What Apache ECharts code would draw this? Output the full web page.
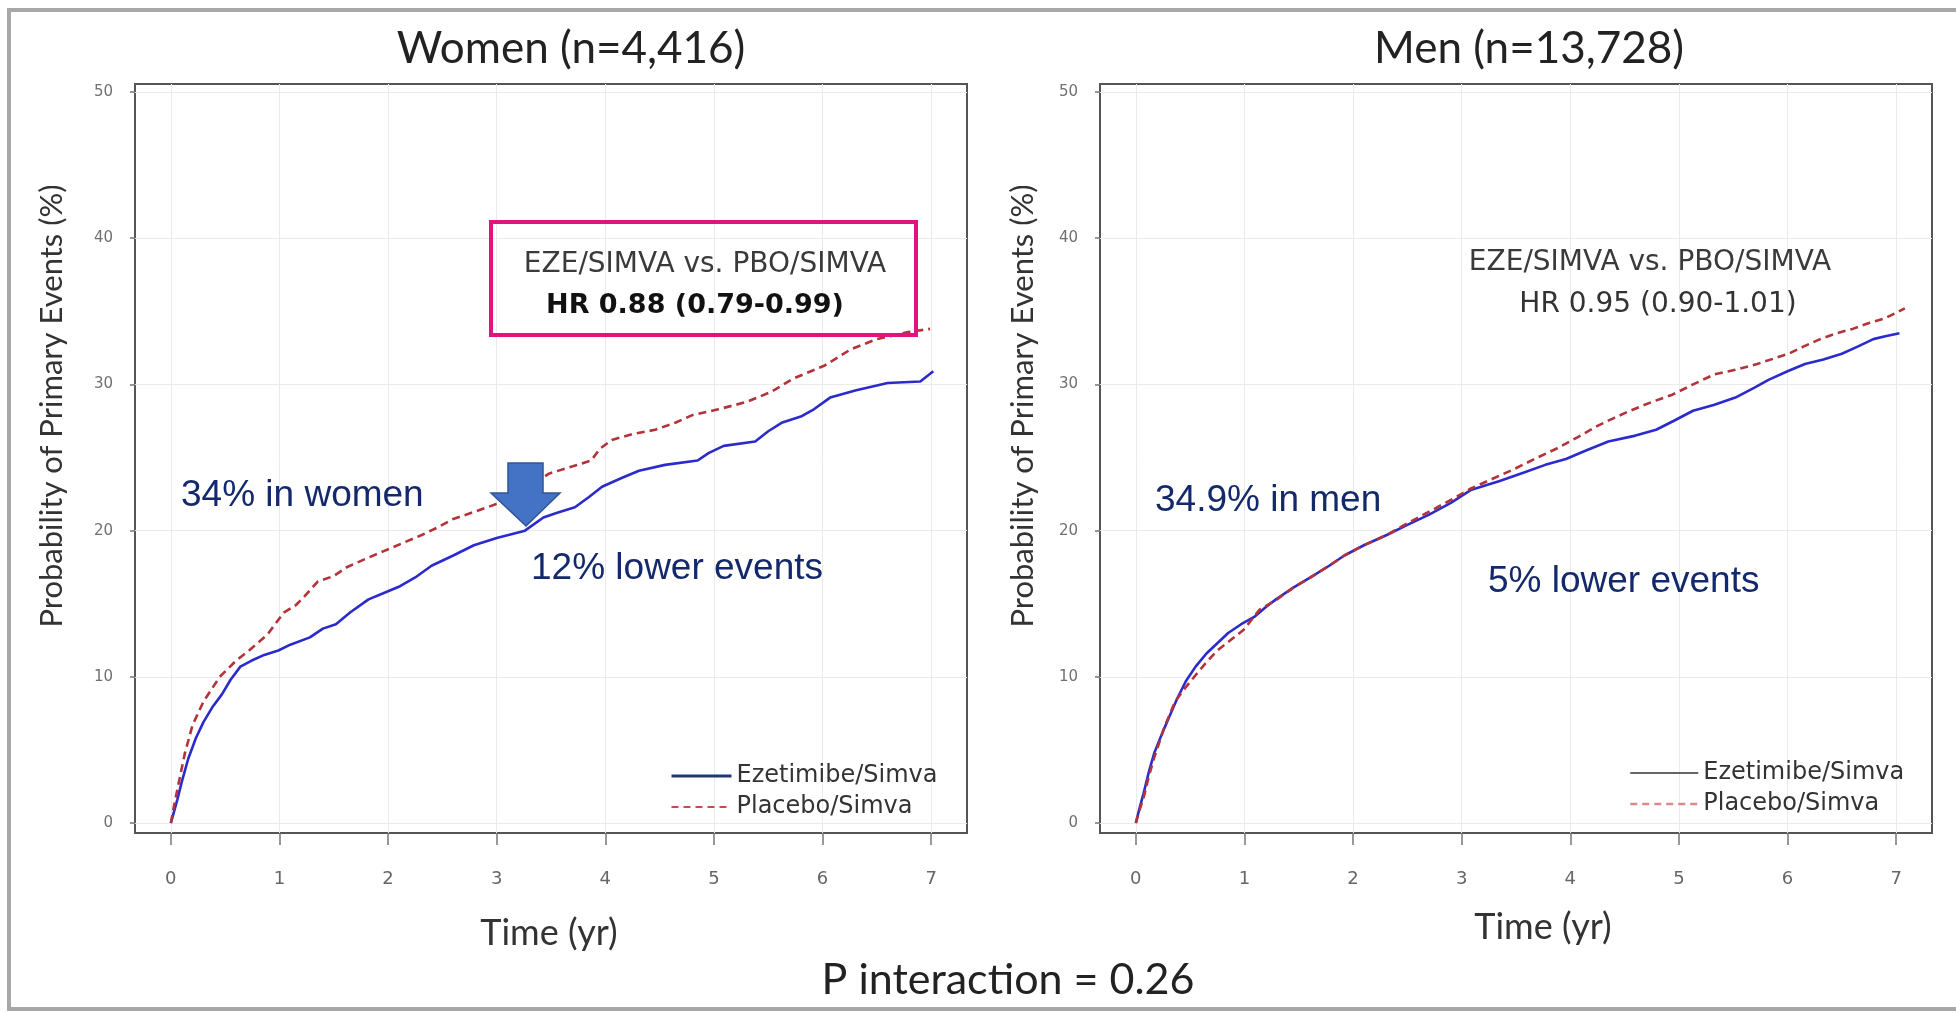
<!DOCTYPE html>
<html><head><meta charset="utf-8">
<script src="https://cdn.jsdelivr.net/npm/echarts@6.0.0/dist/echarts.min.js"></script>
<style>html,body{margin:0;padding:0;background:#fff}#c{width:1956px;height:1014px}</style>
</head><body><div id="c"></div>
<script>
// ---- data (time in years, cumulative probability %) ----
const xTicks = [0,1,2,3,4,5,6,7];
const yTicks = [0,10,20,30,40,50];
const seriesNames = ['Ezetimibe/Simva','Placebo/Simva'];
const panelTitles = ['Women (n=4,416)','Men (n=13,728)'];
const hrLines = [['EZE/SIMVA vs. PBO/SIMVA','HR 0.88 (0.79-0.99)'],['EZE/SIMVA vs. PBO/SIMVA','HR 0.95 (0.90-1.01)']];
const noteTexts = [['34% in women','12% lower events'],['34.9% in men','5% lower events']];

const womenEze = [[0,0],[0.03,0.8],[0.06,1.6],[0.1,2.8],[0.16,4.4],[0.23,5.8],[0.3,6.9],[0.38,7.9],[0.47,8.8],[0.55,9.8],[0.64,10.7],[0.74,11.1],[0.86,11.5],[0.99,11.8],[1.1,12.2],[1.28,12.7],[1.4,13.3],[1.52,13.6],[1.65,14.4],[1.82,15.3],[1.95,15.7],[2.11,16.2],[2.25,16.8],[2.4,17.6],[2.6,18.3],[2.79,19.0],[3.0,19.5],[3.26,20.0],[3.43,20.9],[3.55,21.2],[3.72,21.6],[3.85,22.3],[3.97,23.0],[4.15,23.6],[4.31,24.1],[4.55,24.5],[4.85,24.8],[4.95,25.3],[5.09,25.8],[5.38,26.1],[5.5,26.8],[5.63,27.4],[5.8,27.8],[5.92,28.3],[6.07,29.1],[6.31,29.6],[6.6,30.1],[6.9,30.2],[7.02,30.9]];
const womenPbo = [[0,0],[0.03,1.2],[0.06,2.3],[0.13,4.8],[0.2,6.7],[0.3,8.3],[0.45,10.0],[0.6,11.1],[0.72,11.8],[0.89,12.9],[1.04,14.4],[1.15,14.9],[1.23,15.5],[1.35,16.5],[1.5,16.9],[1.62,17.5],[1.8,18.1],[1.96,18.6],[2.15,19.2],[2.31,19.7],[2.45,20.2],[2.6,20.8],[2.8,21.3],[2.99,21.8],[3.15,22.1],[3.28,22.7],[3.4,23.5],[3.48,23.9],[3.7,24.4],[3.87,24.8],[3.95,25.6],[4.06,26.2],[4.25,26.6],[4.46,26.9],[4.65,27.4],[4.8,27.9],[5.04,28.3],[5.3,28.8],[5.53,29.5],[5.73,30.4],[6.02,31.3],[6.26,32.4],[6.5,33.1],[6.8,33.6],[6.99,33.8]];
const menEze = [[0,0],[0.03,0.9],[0.07,2.0],[0.12,3.5],[0.17,4.8],[0.24,6.1],[0.31,7.3],[0.38,8.5],[0.46,9.7],[0.55,10.7],[0.65,11.6],[0.75,12.3],[0.85,13.0],[0.97,13.6],[1.09,14.1],[1.2,14.8],[1.29,15.3],[1.45,16.1],[1.63,16.9],[1.78,17.6],[1.92,18.3],[2.1,19.0],[2.31,19.7],[2.5,20.4],[2.7,21.1],[2.9,21.9],[3.09,22.8],[3.35,23.4],[3.58,24.0],[3.77,24.5],[3.96,24.9],[4.15,25.5],[4.35,26.1],[4.6,26.5],[4.79,26.9],[4.95,27.5],[5.13,28.2],[5.32,28.6],[5.52,29.1],[5.7,29.8],[5.82,30.3],[6.0,30.9],[6.16,31.4],[6.33,31.7],[6.5,32.1],[6.65,32.6],[6.79,33.1],[6.9,33.3],[7.03,33.5]];
const menPbo = [[0,0],[0.03,0.8],[0.07,1.7],[0.12,3.2],[0.17,4.5],[0.26,6.5],[0.36,8.3],[0.46,9.3],[0.56,10.2],[0.65,11.0],[0.75,11.8],[0.87,12.5],[0.99,13.2],[1.14,14.6],[1.3,15.3],[1.45,16.1],[1.63,16.9],[1.78,17.6],[1.92,18.3],[2.1,19.0],[2.31,19.7],[2.5,20.5],[2.7,21.3],[2.9,22.1],[3.09,22.9],[3.3,23.6],[3.48,24.2],[3.67,24.9],[3.87,25.6],[4.07,26.4],[4.26,27.2],[4.4,27.7],[4.55,28.2],[4.75,28.8],[4.94,29.3],[5.13,30.0],[5.33,30.7],[5.52,31.0],[5.72,31.4],[6.01,32.1],[6.15,32.6],[6.3,33.1],[6.45,33.5],[6.6,33.8],[6.75,34.2],[6.89,34.5],[7.08,35.2]];

// ---- styles ----
const BLUE = '#2b2bcc', RED = '#b3333b', NAVY = '#14296b', PINK = '#e3137d';
const grids = [
  {left:135, top:84, width:832, height:749, show:true, borderColor:'#555', borderWidth:2, backgroundColor:'#fff'},
  {left:1100, top:84, width:832, height:749, show:true, borderColor:'#555', borderWidth:2, backgroundColor:'#fff'}
];
function xAx(i){ return {type:'value', gridIndex:i, min:-0.33, max:7.33,
  axisLine:{show:false, onZero:false},
  axisTick:{show:true, customValues:xTicks, length:12, lineStyle:{color:'#777', width:1.5}},
  axisLabel:{customValues:xTicks, margin:37, color:'#666', fontSize:18, fontFamily:'"Liberation Sans Narrow", "DejaVu Sans", sans-serif'},
  splitLine:{show:true, lineStyle:{color:'#ebebeb', width:1}}}; }
function yAx(i){ return {type:'value', gridIndex:i, min:-0.68, max:50.55,
  axisLine:{show:false, onZero:false},
  axisTick:{show:true, customValues:yTicks, length:5, lineStyle:{color:'#777', width:1.5}},
  axisLabel:{customValues:yTicks, margin:22, color:'#707070', fontSize:15, fontFamily:'"DejaVu Sans", sans-serif'},
  splitLine:{show:true, lineStyle:{color:'#ebebeb', width:1}}}; }
function line(name, data, i, color, dash){ return {type:'line', name, data, xAxisIndex:i, yAxisIndex:i,
  showSymbol:false, symbol:'none', smooth:false,
  lineStyle:{color, width:2.6, type: dash ? [8,5] : 'solid'}, itemStyle:{color}, z:3}; }
function legend(left, top, itemWidth, blueStyle, redStyle){ return {orient:'vertical', left, top, itemWidth, itemHeight:14, itemGap:7,
  padding:0, selectedMode:false,
  itemStyle:{opacity:0, borderWidth:0},
  textStyle:{fontFamily:'"DejaVu Sans", sans-serif', fontSize:24, color:'#333', lineHeight:24},
  data:[{name:seriesNames[0], lineStyle:blueStyle}, {name:seriesNames[1], lineStyle:redStyle}]}; }
function txt(x, y, text, font, fill, align, extra){ return Object.assign({type:'text', x, y, z:100,
  style:{text, font, fill, textAlign:align||'center', textVerticalAlign:'middle', align:align||'center', verticalAlign:'middle'}}, extra||{}); }

const LATO = 'Lato, "Open Sans", sans-serif';
const option = {
  animation:false,
  backgroundColor:'#fff',
  grid: grids,
  xAxis:[xAx(0), xAx(1)],
  yAxis:[yAx(0), yAx(1)],
  legend:[
    legend(670, 764, 60, {color:'#1f3a6e', width:3, type:'solid'}, {color:'#c0504d', width:2, type:[7,5]}),
    legend(1629, 761, 68, {color:'#333', width:1.5, type:'solid'}, {color:'#d98a8a', width:2.5, type:[7,5]})
  ],
  series:[
    line(seriesNames[0], womenEze, 0, BLUE, false),
    line(seriesNames[1], womenPbo, 0, RED, true),
    line(seriesNames[0], menEze, 1, BLUE, false),
    line(seriesNames[1], menPbo, 1, RED, true)
  ],
  graphic:[
    {type:'rect', z:100, shape:{x:9, y:10, width:1960, height:999}, style:{fill:'none', stroke:'#a8a8a8', lineWidth:4}},
    txt(571, 49, panelTitles[0], '44px '+LATO, '#222'),
    txt(1529, 49, panelTitles[1], '44px '+LATO, '#222'),
    txt(52, 406, 'Probability of Primary Events (%)', '31px '+LATO, '#333', 'center', {rotation:Math.PI/2}),
    txt(1023, 406, 'Probability of Primary Events (%)', '31px '+LATO, '#333', 'center', {rotation:Math.PI/2}),
    txt(549, 933, 'Time (yr)', '36px '+LATO, '#333'),
    txt(1543, 927, 'Time (yr)', '36px '+LATO, '#333'),
    txt(1008, 980, 'P interaction = 0.26', '43px '+LATO, '#222'),
    {type:'rect', z:100, shape:{x:491, y:222, width:425, height:113}, style:{fill:'none', stroke:PINK, lineWidth:4}},
    txt(705, 265, hrLines[0][0], '28px "DejaVu Sans", sans-serif', '#3a3a3a'),
    txt(695, 306, hrLines[0][1], 'bold 27px "DejaVu Sans", sans-serif', '#111'),
    txt(1650, 263, hrLines[1][0], '28px "DejaVu Sans", sans-serif', '#3a3a3a'),
    txt(1658, 305, hrLines[1][1], '28px "DejaVu Sans", sans-serif', '#333'),
    txt(181, 496, noteTexts[0][0], '37px "Liberation Sans", Arial, sans-serif', NAVY, 'left'),
    txt(531, 569, noteTexts[0][1], '37px "Liberation Sans", Arial, sans-serif', NAVY, 'left'),
    txt(1155, 501, noteTexts[1][0], '37px "Liberation Sans", Arial, sans-serif', NAVY, 'left'),
    txt(1488, 582, noteTexts[1][1], '37px "Liberation Sans", Arial, sans-serif', NAVY, 'left'),
    {type:'polygon', z:100, shape:{points:[[508,463],[543,463],[543,493],[560,493],[526,526],[491,493],[508,493]]},
      style:{fill:'#4472c4', stroke:'#2f5597', lineWidth:1.5}}
  ]
};
const chart = echarts.init(document.getElementById('c'), null, {renderer:'canvas'});
chart.setOption(option);
</script></body></html>
